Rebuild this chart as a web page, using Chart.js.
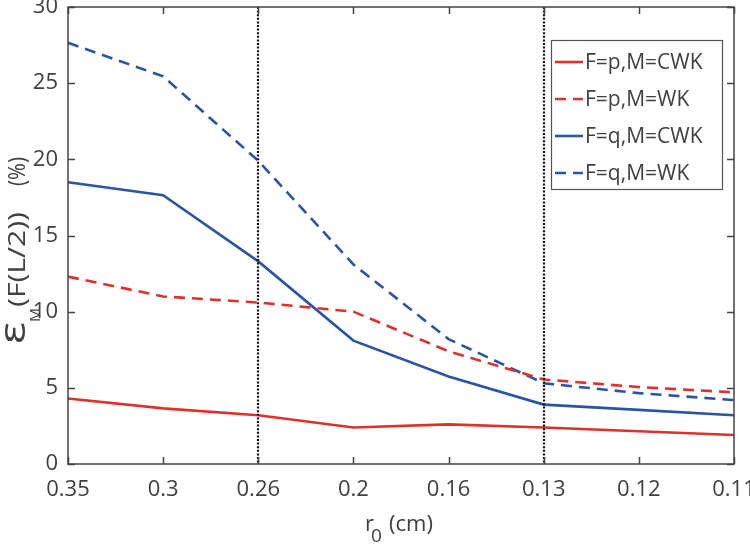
<!DOCTYPE html>
<html>
<head>
<meta charset="utf-8">
<script src="https://cdn.jsdelivr.net/npm/chart.js@4/dist/chart.umd.min.js"></script>
<style>
  html, body { margin: 0; padding: 0; background: #fff; }
  #wrap { width: 750px; height: 544px; }
</style>
</head>
<body>
<div id="wrap"><canvas id="chart" width="750" height="544"></canvas></div>
<script>
// ── DATA ─────────────────────────────────────────
const radii  = ['0.35', '0.3', '0.26', '0.2', '0.16', '0.13', '0.12', '0.11'];
const pCWK   = [4.3, 3.65, 3.2, 2.4, 2.6, 2.4, 2.15, 1.9];
const pWK    = [12.3, 11.0, 10.6, 10.0, 7.4, 5.55, 5.05, 4.7];
const qCWK   = [18.5, 17.65, 13.3, 8.1, 5.75, 3.9, 3.55, 3.2];
const qWK    = [27.65, 25.45, 19.9, 13.1, 8.2, 5.3, 4.65, 4.2];
const yTicks = [0, 5, 10, 15, 20, 25, 30];
const markerRadii = ['0.26', '0.13'];   // dotted verticals

const RED  = 'rgb(222,48,44)';
const BLUE = 'rgb(42,84,164)';
const AXIS = '#444';
const TXT  = '#404040';
const FONT = '"Open Sans", sans-serif';
const DASH = [11, 7];

// rotated text piece, stretched to fill [yBottom..yTop] on screen
function vText(ctx, str, font, baseX, yBottom, yTop) {
  ctx.save();
  ctx.font = font;
  const w = ctx.measureText(str).width;
  ctx.translate(baseX, yBottom);
  ctx.rotate(-Math.PI / 2);
  ctx.scale((yBottom - yTop) / w, 1);
  ctx.fillText(str, 0, 0);
  ctx.restore();
}

// ── AXES / FRAME / LABELS (matlab style, ticks inside) ──
const matlabAxes = {
  id: 'matlabAxes',
  afterDatasetsDraw(chart) {
    const { ctx, chartArea: a, scales: { x, y } } = chart;
    ctx.save();

    // dotted vertical markers
    ctx.strokeStyle = '#111';
    ctx.lineWidth = 2.2;
    ctx.setLineDash([2, 1.6]);
    markerRadii.forEach(r => {
      const px = Math.round(x.getPixelForValue(radii.indexOf(r)));
      ctx.beginPath(); ctx.moveTo(px, a.top); ctx.lineTo(px, a.bottom); ctx.stroke();
    });
    ctx.setLineDash([]);

    // frame
    ctx.strokeStyle = AXIS;
    ctx.lineWidth = 1.5;
    ctx.strokeRect(a.left, a.top, a.right - a.left, a.bottom - a.top);

    // ticks inside
    const tl = 7;
    ctx.beginPath();
    radii.forEach((_, i) => {
      const px = Math.round(x.getPixelForValue(i)) + 0.5;
      ctx.moveTo(px, a.bottom); ctx.lineTo(px, a.bottom - tl);
      ctx.moveTo(px, a.top);    ctx.lineTo(px, a.top + tl);
    });
    yTicks.forEach(v => {
      const py = Math.round(y.getPixelForValue(v)) + 0.5;
      ctx.moveTo(a.left, py);  ctx.lineTo(a.left + tl, py);
      ctx.moveTo(a.right, py); ctx.lineTo(a.right - tl, py);
    });
    ctx.stroke();

    // tick labels
    ctx.fillStyle = TXT;
    ctx.font = '22px ' + FONT;
    ctx.textAlign = 'center';
    ctx.textBaseline = 'middle';
    radii.forEach((r, i) => ctx.fillText(r, x.getPixelForValue(i), 490));
    ctx.textAlign = 'right';
    yTicks.forEach(v => ctx.fillText(String(v), 58, y.getPixelForValue(v)));

    // x title: r_0 (cm)
    ctx.textAlign = 'left';
    ctx.textBaseline = 'alphabetic';
    ctx.font = '22px ' + FONT;
    ctx.fillText('r', 365, 531);
    ctx.font = '19px ' + FONT;
    ctx.fillText('0', 371, 542);
    ctx.font = '22px ' + FONT;
    ctx.fillText('(cm)', 389, 531);

    // y title: ε_M(F(L/2))  (%)
    vText(ctx, '\u03b5', '36px ' + FONT, 25, 344, 322);
    vText(ctx, 'M', '14px ' + FONT, 40, 322, 308);
    vText(ctx, '(F(L/2))', '24px ' + FONT, 25, 307, 212);
    vText(ctx, '(%)', '24px ' + FONT, 25, 186, 157);

    // legend box
    const lx = 551, ly = 40, lw = 171, lh = 149;
    ctx.fillStyle = '#fff';
    ctx.fillRect(lx, ly, lw, lh);
    ctx.strokeStyle = '#555';
    ctx.lineWidth = 1.2;
    ctx.strokeRect(lx + 0.5, ly + 0.5, lw, lh);
    ctx.font = '21px ' + FONT;
    ctx.textBaseline = 'middle';
    chart.data.datasets.forEach((ds, i) => {
      const ry = 62 + i * 37;
      ctx.strokeStyle = ds.borderColor;
      ctx.lineWidth = ds.borderWidth;
      ctx.setLineDash(ds.borderDash || []);
      ctx.beginPath(); ctx.moveTo(555, ry); ctx.lineTo(583, ry); ctx.stroke();
      ctx.setLineDash([]);
      ctx.fillStyle = TXT;
      ctx.fillText(ds.label, 585, ry + 1);
    });

    ctx.restore();
  }
};

const mk = (label, data, color, dashed) => ({
  label, data,
  borderColor: color,
  borderWidth: 2.6,
  borderDash: dashed ? DASH : [],
  pointRadius: 0,
  tension: 0,
  fill: false
});

new Chart(document.getElementById('chart'), {
  type: 'line',
  data: {
    labels: radii,
    datasets: [
      mk('F=p,M=CWK', pCWK, RED, false),
      mk('F=p,M=WK',  pWK,  RED, true),
      mk('F=q,M=CWK', qCWK, BLUE, false),
      mk('F=q,M=WK',  qWK,  BLUE, true),
    ]
  },
  options: {
    responsive: false,
    animation: false,
    devicePixelRatio: 1,
    layout: { padding: { left: 68, right: 16, top: 7, bottom: 80 } },
    scales: {
      x: { type: 'category', offset: false, display: false },
      y: { min: 0, max: 30, display: false }
    },
    plugins: { legend: { display: false }, tooltip: { enabled: false } }
  },
  plugins: [matlabAxes]
});
</script>
</body>
</html>
